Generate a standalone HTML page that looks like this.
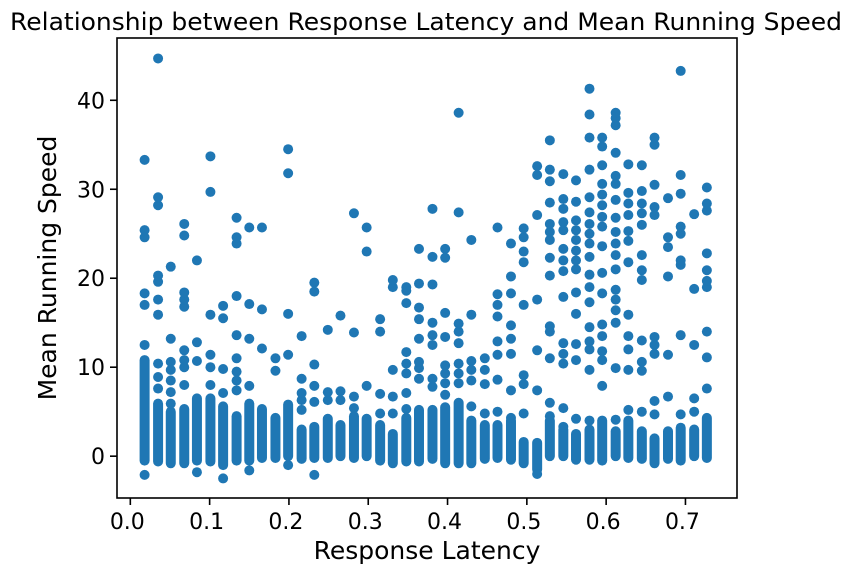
<!DOCTYPE html>
<html><head><meta charset="utf-8"><style>
body{margin:0;background:#fff;}
svg{display:block;font-family:"DejaVu Sans","Liberation Sans",sans-serif;}
</style></head><body>
<svg id="chart" width="852" height="575" viewBox="0 0 852 575" xmlns="http://www.w3.org/2000/svg">
<text x="426" y="30" text-anchor="middle" font-size="24" textLength="832" lengthAdjust="spacingAndGlyphs" fill="#000">Relationship between Response Latency and Mean Running Speed</text>
<g id="marks"></g>
<rect x="117" y="38" width="620" height="460" fill="none" stroke="#000" stroke-width="1.6"/>
<g id="axes"></g>
<text x="427" y="559" text-anchor="middle" font-size="25" fill="#000">Response Latency</text>
<text transform="translate(56,268) rotate(-90)" text-anchor="middle" font-size="25" fill="#000">Mean Running Speed</text>
</svg>
<script>
const latencies=[0.018,0.035,0.051,0.068,0.084,0.101,0.117,0.134,0.150,0.166,0.183,0.199,0.216,0.232,0.249,0.265,0.282,0.298,0.315,0.331,0.348,0.364,0.381,0.397,0.414,0.430,0.447,0.463,0.480,0.496,0.513,0.529,0.546,0.562,0.579,0.595,0.612,0.628,0.645,0.661,0.678,0.694,0.711,0.727];
const clusterLow=[-0.5,-0.6,-0.8,-0.8,-0.5,-0.6,-1.0,-0.5,-0.5,-0.2,-0.2,0,-0.3,-0.2,-0.2,0,-0.2,0,-0.5,-0.8,-0.6,-0.6,-0.3,-0.8,-0.8,-0.8,-0.3,-0.2,-0.4,-0.8,-1.5,0,0,-0.4,-0.4,-0.5,0,-0.2,-0.3,-0.8,-0.3,-0.5,0,-0.2];
const clusterHigh=[10.8,5.9,5.0,5.3,6.5,6.5,5.6,4.5,5.9,5.3,4.3,5.8,3.0,3.3,4.2,3.5,4.5,4.2,3.5,2.5,4.3,5.2,5.2,5.5,6.0,4.0,3.5,3.5,4.0,1.6,1.5,4.0,3.0,2.5,3.0,4.0,2.8,4.0,2.8,2.0,2.8,3.2,3.0,4.3];
const extraSpeeds=[
[12.5,17.0,18.3,24.6,25.4,33.3,-2.1],
[10.4,8.9,7.6,15.9,17.6,19.6,20.3,28.2,29.1,44.7],
[5.9,7.2,8.5,9.7,10.6,13.2,21.3],
[8.0,10.0,10.8,11.9,16.8,17.6,18.4,24.8,26.1],
[-1.8,10.7,12.8,22.0],
[8.0,10.0,11.4,15.9,29.7,33.7],
[-2.5,7.1,9.8,15.5,16.9],
[7.4,8.5,9.5,11.0,13.6,18.0,23.9,24.6,26.8],
[-1.6,7.9,13.2,17.1,25.7],
[12.1,16.5,25.7],
[9.6,11.0],
[-1.0,11.4,16.0,31.8,34.5],
[5.2,6.3,7.1,8.7,13.5],
[-2.1,6.1,7.9,10.3,18.5,19.5],
[6.3,7.2,14.2],
[6.3,7.3,15.8],
[5.4,6.7,13.9,27.3],
[7.9,23.0,25.7],
[4.8,7.0,14.0,15.4],
[4.8,6.7,9.7,19.0,19.8],
[5.3,7.1,9.3,10.4,11.7,17.2,18.6,19.0],
[8.7,9.9,10.6,13.2,15.4,16.7,19.4,23.3],
[7.8,8.7,12.5,13.6,15.0,19.3,22.4,27.8],
[6.9,8.2,9.3,10.2,13.4,16.1,22.3,23.3],
[8.2,9.3,10.4,12.7,14.0,14.9,27.4,38.6],
[5.6,8.5,9.7,10.7,15.9,24.3],
[4.8,8.1,9.7,11.0],
[5.0,8.6,11.4,12.9,15.7,17.0,18.2,25.7],
[4.3,7.4,11.5,13.2,14.7,18.3,20.2,23.9],
[4.8,8.1,9.1,17.0,21.8,23.0,24.6,25.6],
[-2.0,7.4,11.9,17.6,27.1,31.6,32.6],
[4.5,6.0,11.0,14.0,14.6,20.3,22.3,24.3,25.2,26.1,28.5,30.9,32.2,35.5],
[3.3,5.4,10.4,11.5,12.7,17.9,20.8,22.0,23.3,25.4,26.3,27.8,28.9,31.7],
[4.2,10.8,12.6,16.0,18.4,21.0,22.0,23.1,24.3,25.4,26.5,28.6,31.0],
[4.0,9.7,12.0,12.9,14.5,17.3,19.0,20.4,22.4,23.9,25.0,26.1,27.4,29.1,32.2,35.8,38.4,41.3],
[7.9,10.8,11.8,13.5,14.8,18.3,20.6,23.6,25.8,26.9,28.2,29.4,30.6,32.7,34.8,35.8],
[4.1,9.9,15.0,16.4,17.6,18.7,21.0,22.6,23.9,25.2,26.8,28.8,30.6,31.5,34.1,37.2,38.0,38.6],
[5.2,9.7,12.0,13.5,15.9,21.8,24.2,25.3,27.1,28.4,29.6,32.8],
[5.0,9.6,10.6,13.0,19.8,20.9,22.6,26.0,27.3,28.4,29.8,32.7],
[4.7,6.2,11.5,12.5,13.4,27.1,28.0,30.5,35.0,35.8],
[6.7,11.4,20.2,23.5,24.6,29.0],
[4.7,13.6,21.5,22.0,25.0,25.8,29.5,31.6,43.3],
[5.0,6.5,12.5,18.8,27.2],
[7.6,11.1,14.0,19.0,19.7,20.9,22.8,27.6,28.4,30.2]
];
const xTicks=[0.0,0.1,0.2,0.3,0.4,0.5,0.6,0.7];
const xTickLabels=["0.0","0.1","0.2","0.3","0.4","0.5","0.6","0.7"];
const yTicks=[0,10,20,30,40];
const yTickLabels=["0","10","20","30","40"];

const X0=117,X1=737,Y0=498,Y1=38,XMIN=-0.0168,XMAX=0.765,YMIN=-4.7,YMAX=47.0;
function sx(v){return X0+(v-XMIN)/(XMAX-XMIN)*(X1-X0);}
function sy(v){return Y0-(v-YMIN)/(YMAX-YMIN)*(Y0-Y1);}
const NS="http://www.w3.org/2000/svg";
const marks=document.getElementById('marks');
const axes=document.getElementById('axes');
const C="#1f77b4";
latencies.forEach((lx,i)=>{
  const l=document.createElementNS(NS,'line');
  l.setAttribute('x1',sx(lx));l.setAttribute('x2',sx(lx));
  l.setAttribute('y1',sy(clusterLow[i]));l.setAttribute('y2',sy(clusterHigh[i]));
  l.setAttribute('stroke',C);l.setAttribute('stroke-width','10');l.setAttribute('stroke-linecap','round');
  
  
  marks.appendChild(l);
  extraSpeeds[i].forEach(v=>{
    const c=document.createElementNS(NS,'circle');
    c.setAttribute('cx',sx(lx));c.setAttribute('cy',sy(v));c.setAttribute('r','5');c.setAttribute('fill',C);
    
    
    marks.appendChild(c);
  });
});
xTicks.forEach((t,i)=>{
  const x=sx(t);
  const l=document.createElementNS(NS,'line');
  l.setAttribute('x1',x);l.setAttribute('x2',x);l.setAttribute('y1',Y0);l.setAttribute('y2',Y0+7);
  l.setAttribute('stroke','#000');l.setAttribute('stroke-width','1.6');
  
  
  axes.appendChild(l);
  const tx=document.createElementNS(NS,'text');
  tx.setAttribute('x',x-3);tx.setAttribute('y',Y0+31);tx.setAttribute('text-anchor','middle');tx.setAttribute('font-size','22');
  tx.textContent=xTickLabels[i];
  
  
  axes.appendChild(tx);
});
yTicks.forEach((t,i)=>{
  const y=sy(t);
  const l=document.createElementNS(NS,'line');
  l.setAttribute('x1',X0-7);l.setAttribute('x2',X0);l.setAttribute('y1',y);l.setAttribute('y2',y);
  l.setAttribute('stroke','#000');l.setAttribute('stroke-width','1.6');
  
  
  axes.appendChild(l);
  const tx=document.createElementNS(NS,'text');
  tx.setAttribute('x',X0-12);tx.setAttribute('y',y+8);tx.setAttribute('text-anchor','end');tx.setAttribute('font-size','22');
  tx.textContent=yTickLabels[i];
  
  
  axes.appendChild(tx);
});
</script>
</body></html>
